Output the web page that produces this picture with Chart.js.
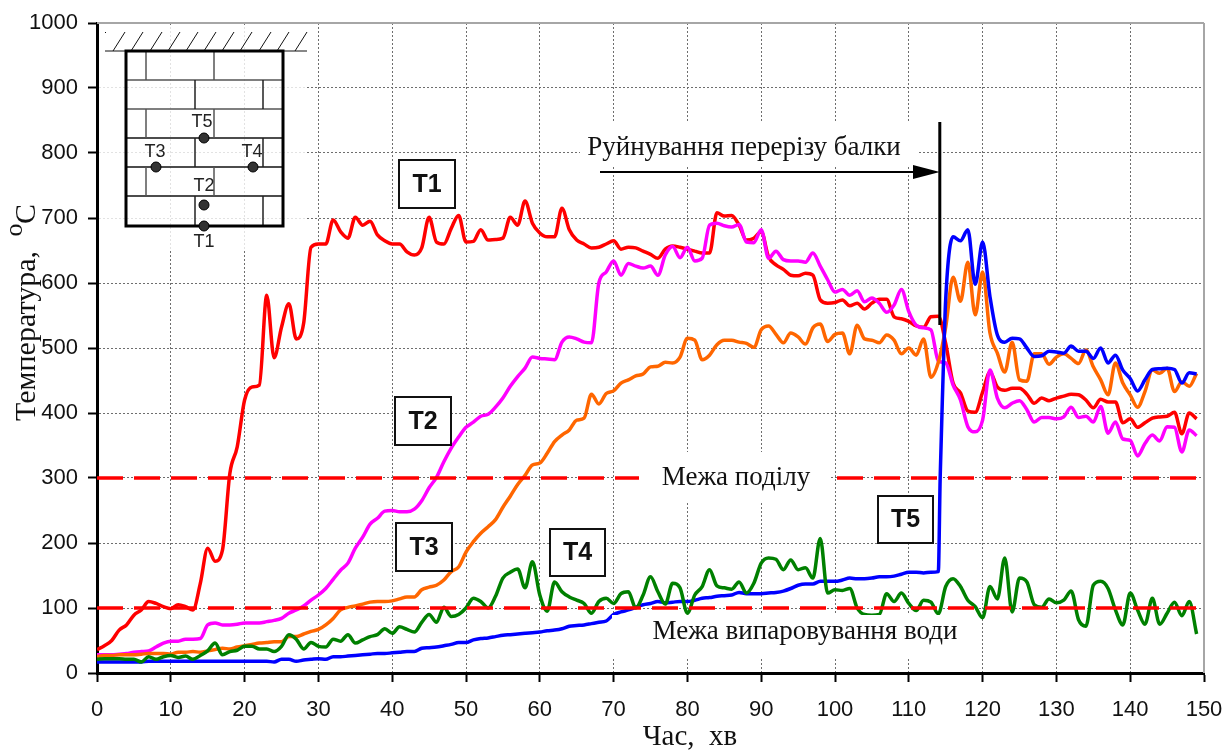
<!DOCTYPE html>
<html>
<head>
<meta charset="utf-8">
<title>Температура балки</title>
<script src="https://cdn.jsdelivr.net/npm/chart.js@4"></script>
<style>
  html, body { margin: 0; padding: 0; background: #fff; }
  canvas { display: block; }
</style>
</head>
<body>
<canvas id="chart" width="1226" height="751"></canvas>
<script>
/* ================= DATA ================= */
const minutes = [
  0,1,2,3,4,5,6,7,8,9,10,11,12,13,14,15,16,17,18,19,20,21,22,23,24,25,26,27,28,29,
  30,31,32,33,34,35,36,37,38,39,40,41,42,43,44,45,46,47,48,49,50,51,52,53,54,55,56,57,58,59,
  60,61,62,63,64,65,66,67,68,69,70,71,72,73,74,75,76,77,78,79,80,81,82,83,84,85,86,87,88,89,
  90,91,92,93,94,95,96,97,98,99,100,101,102,103,104,105,106,107,108,109,110,111,112,113,114,115,116,117,118,119,
  120,121,122,123,124,125,126,127,128,129,130,131,132,133,134,135,136,137,138,139,140,141,142,143,144,145,146,147,148,149
];

const t1 = [
  36,42,50,66,74,89,97,110,107,102,
  99,105,102,97,138,192,172,189,307,348,
  420,440,443,581,485,532,568,514,538,655,
  660,660,697,679,669,701,689,695,674,665,
  660,660,648,643,654,701,663,660,684,704,
  663,664,682,666,667,669,701,689,726,692,
  677,671,671,715,682,666,660,654,655,660,
  665,652,655,654,649,644,638,652,657,655,
  652,649,646,646,708,703,704,689,666,669,
  679,640,628,621,612,611,615,612,574,569,
  570,574,565,569,560,569,575,575,548,545,
  541,534,532,548,549,507,446,431,403,401,
  432,463,440,435,438,438,429,415,423,419,
  423,426,429,428,420,408,421,417,417,385,
  391,378,385,392,394,395,401,368,400,391
];

const t2 = [
  28,28,28,29,30,32,33,34,40,46,
  49,49,52,52,53,74,77,74,74,75,
  77,77,77,79,81,84,92,97,103,112,
  120,130,144,158,169,192,209,229,238,249,
  250,248,248,252,265,285,301,325,346,363,
  378,386,395,398,409,423,441,456,469,486,
  484,483,482,509,517,514,509,508,600,617,
  634,612,630,626,623,626,612,643,656,639,
  655,634,638,689,692,688,686,690,663,662,
  682,638,649,636,634,634,632,646,626,605,
  586,590,581,588,571,577,569,555,566,590,
  556,535,531,528,480,477,443,420,379,371,
  389,466,423,408,415,419,405,386,393,393,
  391,394,409,393,395,386,410,369,386,360,
  358,334,353,366,357,379,378,340,374,365
];

const t3 = [
  25,27,27,28,28,28,29,30,30,30,
  29,32,32,33,32,34,36,38,37,40,
  42,44,46,47,48,48,56,56,60,64,
  67,74,84,97,101,103,106,109,110,110,
  111,114,117,117,128,132,135,143,156,163,
  186,202,215,225,236,255,272,290,304,320,
  323,338,356,366,374,389,392,429,414,430,
  434,446,451,457,460,471,472,478,477,486,
  515,512,482,489,505,512,512,509,507,501,
  528,534,521,508,523,517,506,531,537,510,
  521,523,491,535,514,512,508,520,512,491,
  500,489,514,455,478,532,609,572,632,551,
  617,523,492,463,509,451,449,491,491,475,
  486,491,484,476,497,471,451,428,477,446,
  428,409,433,466,461,469,433,448,441,461
];

const t4 = [
  21,22,22,22,21,21,17,25,21,25,
  27,24,26,21,27,34,46,28,33,35,
  41,41,37,37,33,41,59,52,37,47,
  41,40,52,49,59,46,51,56,59,68,
  61,71,67,63,78,90,78,101,87,90,
  100,115,110,100,118,146,155,160,131,171,
  120,95,140,125,117,112,107,92,110,115,
  107,122,125,100,120,148,125,106,138,131,
  92,120,133,159,134,131,129,140,123,138,
  169,177,175,159,174,159,162,146,207,123,
  128,127,130,100,90,89,90,122,110,123,
  107,96,112,109,91,133,145,133,112,102,
  85,133,114,177,94,146,140,105,101,114,
  108,112,126,82,72,135,141,130,97,74,
  123,97,75,115,75,92,109,88,110,60
];

// T5 jumps inside one minute, so it has two extra readings after 114
const t5Minutes = [
  0,1,2,3,4,5,6,7,8,9,10,11,12,13,14,15,16,17,18,19,20,21,22,23,24,25,26,27,28,29,
  30,31,32,33,34,35,36,37,38,39,40,41,42,43,44,45,46,47,48,49,50,51,52,53,54,55,56,57,58,59,
  60,61,62,63,64,65,66,67,68,69,70,71,72,73,74,75,76,77,78,79,80,81,82,83,84,85,86,87,88,89,
  90,91,92,93,94,95,96,97,98,99,100,101,102,103,104,105,106,107,108,109,110,111,112,113,114,114.25,114.6,115,116,117,118,119,
  120,121,122,123,124,125,126,127,128,129,130,131,132,133,134,135,136,137,138,139,140,141,142,143,144,145,146,147,148,149
];

const t5 = [
  17,17,17,17,17,17,17,18,18,18,
  18,18,18,18,18,18,18,18,18,18,
  18,18,18,18,17,21,21,18,20,21,
  22,21,25,25,26,27,28,29,30,30,
  31,32,33,33,38,39,40,42,44,47,
  47,51,53,54,56,58,59,60,61,62,
  63,65,66,68,72,73,74,76,78,80,
  90,94,97,101,105,107,110,108,109,110,
  110,112,115,116,118,119,120,124,122,122,
  122,123,124,126,130,135,137,137,141,141,
  141,143,146,145,145,146,148,148,149,152,
  155,155,154,155,156,300,440,575,671,665,682,598,
  663,579,520,509,515,514,500,487,488,495,
  494,492,503,495,495,484,500,477,489,466,
  453,434,451,467,468,469,467,446,462,460
];

const limitMinutes = [0, 150];
const limitSplit = [300, 300];
const limitWater = [100, 100];

const xTicks = [0,10,20,30,40,50,60,70,80,90,100,110,120,130,140,150];
const yTicks = [0,100,200,300,400,500,600,700,800,900,1000];

/* ================= HELPERS ================= */
const SERIF = '"Liberation Serif", serif';
const SANS = '"Liberation Sans", Arial, sans-serif';

const pts = (xs, ys) => xs.map((x, i) => ({ x, y: ys[i] }));

function series(label, xs, ys, color, order) {
  return {
    label,
    data: pts(xs, ys),
    borderColor: color,
    borderWidth: 3.5,
    pointRadius: 0,
    cubicInterpolationMode: "monotone",
    order
  };
}

function limit(label, ys) {
  return {
    label,
    data: pts(limitMinutes, ys),
    borderColor: "#ff0000",
    borderWidth: 3.5,
    borderDash: [26, 11],
    pointRadius: 0,
    order: 1
  };
}

function seg(c, x1, y1, x2, y2) {
  c.beginPath();
  c.moveTo(x1, y1);
  c.lineTo(x2, y2);
  c.stroke();
}

function whiteBox(c, x1, y1, x2, y2) {
  c.fillStyle = "#fff";
  c.fillRect(x1, y1, x2 - x1, y2 - y1);
}

function serifText(c, text, x, y, size) {
  c.fillStyle = "#111";
  c.font = size + "px " + SERIF;
  c.textAlign = "center";
  c.textBaseline = "middle";
  c.fillText(text, x, y);
}

function tagBox(c, text, x1, y1, x2, y2) {
  whiteBox(c, x1, y1, x2, y2);
  c.strokeStyle = "#111";
  c.lineWidth = 2;
  c.strokeRect(x1, y1, x2 - x1, y2 - y1);
  c.fillStyle = "#111";
  c.font = "bold 25px " + SANS;
  c.textAlign = "center";
  c.textBaseline = "middle";
  c.fillText(text, (x1 + x2) / 2, (y1 + y2) / 2 + 1);
}

/* ================= BEAM SECTION SKETCH ================= */
function drawSection(c) {
  c.save();
  c.fillStyle = "rgba(255,255,255,0.8)";
  c.fillRect(99, 25, 208, 226);

  c.strokeStyle = "#111";
  c.lineWidth = 1;
  seg(c, 105, 51, 307, 51);
  [113, 131, 150, 168, 186, 204, 222, 240, 259, 277, 295].forEach(x => seg(c, x, 51, x + 12, 32));
  seg(c, 105, 33, 106, 32);

  // brick joints
  c.lineWidth = 1.5;
  c.strokeStyle = "#555";
  [80, 109].forEach(y => seg(c, 126, y, 283, y));
  c.strokeStyle = "#111";
  [138, 167, 196].forEach(y => seg(c, 126, y, 283, y));
  c.strokeStyle = "#555";
  [[51, 80], [109, 138], [167, 196]].forEach(r => {
    seg(c, 146, r[0], 146, r[1]);
    seg(c, 214, r[0], 214, r[1]);
  });
  c.strokeStyle = "#222";
  [[80, 109], [138, 167], [196, 226]].forEach(r => {
    seg(c, 195, r[0], 195, r[1]);
    seg(c, 263, r[0], 263, r[1]);
  });

  c.strokeStyle = "#000";
  c.lineWidth = 3;
  c.strokeRect(126, 51, 157, 175);

  // thermocouples
  [[204, 138], [156, 167], [253, 167], [204, 205], [204, 226]].forEach(p => {
    c.beginPath();
    c.arc(p[0], p[1], 5, 0, Math.PI * 2);
    c.fillStyle = "#333";
    c.fill();
    c.lineWidth = 1;
    c.strokeStyle = "#000";
    c.stroke();
  });

  c.fillStyle = "#222";
  c.font = '18px "Liberation Sans Narrow", ' + SANS;
  c.textAlign = "center";
  c.textBaseline = "middle";
  [["T5", 202, 122], ["T3", 155, 152], ["T4", 252, 152], ["T2", 204, 186], ["T1", 204, 242]].forEach(l => {
    c.fillText(l[0], l[1], l[2]);
  });
  c.restore();
}

/* ================= OVERLAY ================= */
const frame = {
  id: "frame",
  beforeDatasetsDraw(chart) {
    const c = chart.ctx;
    const { top, right, bottom } = chart.chartArea;
    c.save();
    // grey frame on top and right
    c.strokeStyle = "#a6a6a6";
    c.lineWidth = 2;
    seg(c, 97, top, right, top);
    seg(c, right, top, right, bottom);
    c.restore();
  }
};

const overlay = {
  id: "overlay",
  afterDatasetsDraw(chart) {
    const c = chart.ctx;
    c.save();

    // labels sit on white boxes that hide grid and curves
    whiteBox(c, 639, 452, 831, 503);
    serifText(c, "Межа поділу", 736, 478, 27);
    whiteBox(c, 612, 615, 965, 657);
    serifText(c, "Межа випаровування води", 805, 632, 27);
    whiteBox(c, 580, 123, 918, 167);
    serifText(c, "Руйнування перерізу балки", 744, 148, 27);

    // arrow to the failure moment
    const xFail = chart.scales.x.getPixelForValue(114.2);
    c.strokeStyle = "#000";
    c.fillStyle = "#000";
    c.lineWidth = 3;
    seg(c, xFail, 122, xFail, 325);
    c.lineWidth = 2;
    seg(c, 600, 172, 915, 172);
    c.beginPath();
    c.moveTo(xFail, 172);
    c.lineTo(913, 165);
    c.lineTo(913, 179);
    c.closePath();
    c.fill();

    tagBox(c, "T1", 399, 160, 455, 208);
    tagBox(c, "T2", 395, 397, 451, 445);
    tagBox(c, "T3", 396, 523, 452, 571);
    tagBox(c, "T4", 550, 529, 605, 576);
    tagBox(c, "T5", 878, 496, 933, 543);

    drawSection(c);

    // axis titles, the superscript o has to be placed by hand
    serifText(c, "Час,  хв", 690, 737, 29);
    c.translate(27, 336);
    c.rotate(-Math.PI / 2);
    serifText(c, "Температура,", 0, 0, 30);
    serifText(c, "C", 122, 0, 30);
    serifText(c, "o", 106, -12, 26);
    c.restore();
  }
};

/* ================= CHART ================= */
new Chart(document.getElementById("chart"), {
  type: "line",
  data: {
    datasets: [
      series("T1", minutes, t1, "#ff0000", 6),
      series("T2", minutes, t2, "#ff00ff", 5),
      series("T3", minutes, t3, "#ff6600", 4),
      series("T5", t5Minutes, t5, "#0000ff", 3),
      series("T4", minutes, t4, "#008000", 2),
      limit("Межа поділу", limitSplit),
      limit("Межа випаровування води", limitWater)
    ]
  },
  options: {
    responsive: false,
    animation: false,
    layout: { padding: { top: 23, right: 22 } },
    plugins: { legend: { display: false }, tooltip: { enabled: false } },
    scales: {
      x: {
        type: "linear",
        min: 0,
        max: 150,
        // plot edges are fixed, tick labels must not push them in
        afterFit: s => { s.height = 78; s.paddingLeft = 0; s.paddingRight = 0; },
        afterBuildTicks: s => { s.ticks = xTicks.map(value => ({ value })); },
        border: { color: "#000", width: 3, dash: [2, 2] },
        grid: { color: "#6e6e6e", lineWidth: 1, tickColor: "#000", tickWidth: 2, tickLength: 9, tickBorderDash: [] },
        ticks: { color: "#111", font: { family: SANS, size: 22 }, padding: 15, maxRotation: 0, callback: v => String(v) }
      },
      y: {
        type: "linear",
        min: 0,
        max: 1000,
        afterFit: s => { s.width = 97; s.paddingTop = 0; s.paddingBottom = 0; },
        afterBuildTicks: s => { s.ticks = yTicks.map(value => ({ value })); },
        border: { color: "#000", width: 3, dash: [2, 2] },
        grid: { color: "#6e6e6e", lineWidth: 1, tickColor: "#000", tickWidth: 2, tickLength: 9, tickBorderDash: [] },
        ticks: { color: "#111", font: { family: SANS, size: 22 }, padding: 10, callback: v => String(v) }
      }
    }
  },
  plugins: [frame, overlay]
});
</script>
</body>
</html>
